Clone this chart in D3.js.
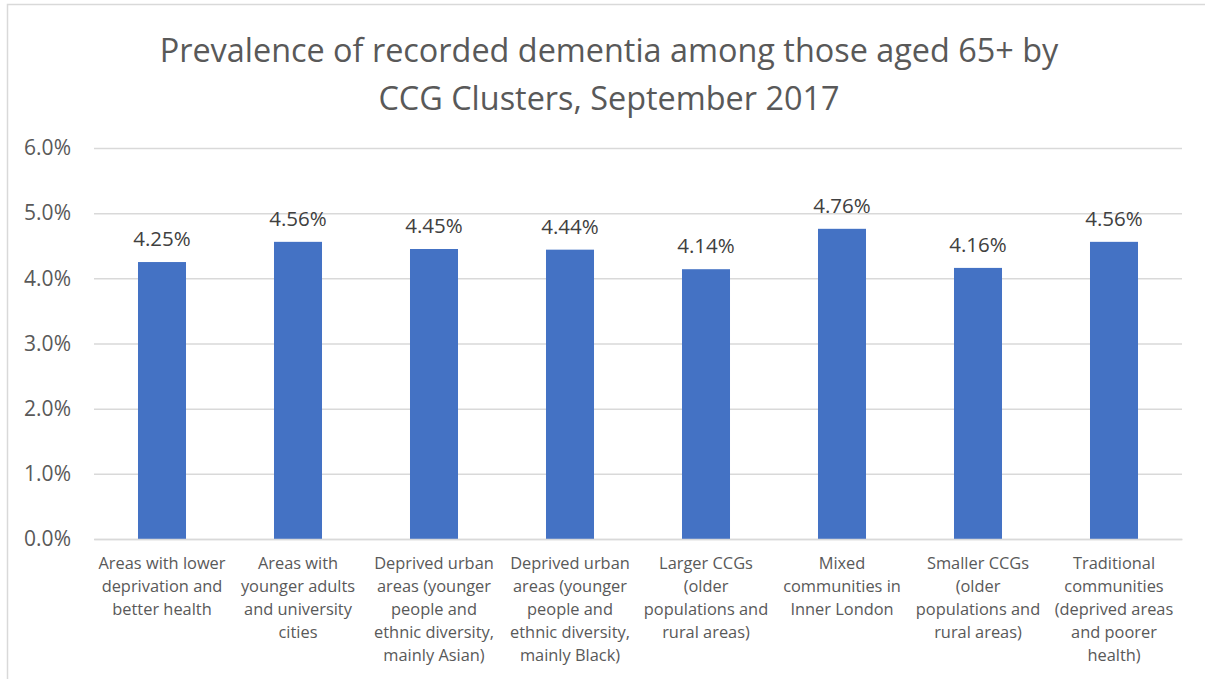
<!DOCTYPE html>
<html>
<head>
<meta charset="utf-8">
<script src="https://cdn.jsdelivr.net/npm/d3@7"></script>
<style>
  html, body { margin: 0; padding: 0; background: #fff; }
  svg { display: block; font-family: "Open Sans", "Liberation Sans", sans-serif; }
</style>
</head>
<body>
<script>
// Cluster names (line-broken as shown under each bar)
const categories = [
  ["Areas with lower", "deprivation and", "better health"],
  ["Areas with", "younger adults", "and university", "cities"],
  ["Deprived urban", "areas (younger", "people and", "ethnic diversity,", "mainly Asian)"],
  ["Deprived urban", "areas (younger", "people and", "ethnic diversity,", "mainly Black)"],
  ["Larger CCGs", "(older", "populations and", "rural areas)"],
  ["Mixed", "communities in", "Inner London"],
  ["Smaller CCGs", "(older", "populations and", "rural areas)"],
  ["Traditional", "communities", "(deprived areas", "and poorer", "health)"]
];
// Recorded dementia prevalence, aged 65+ (%)
const values = [4.25, 4.56, 4.45, 4.44, 4.14, 4.76, 4.16, 4.56];
const yTicks = [0, 1, 2, 3, 4, 5, 6];
const titleLines = ["Prevalence of recorded dementia among those aged 65+ by", "CCG Clusters, September 2017"];

const W = 1205, H = 679;
const margin = { left: 94, right: 23, top: 148, bottom: 140 };
const textColor = "#595959";

const svg = d3.select("body").append("svg").attr("width", W).attr("height", H);

// chart frame
svg.append("rect")
  .attr("x", 7.5).attr("y", 4.5)
  .attr("width", W + 10).attr("height", H + 10)
  .attr("fill", "none").attr("stroke", "#d9d9d9").attr("stroke-width", 1.5);

const x = d3.scaleBand()
  .domain(d3.range(values.length))
  .range([margin.left, W - margin.right])
  .paddingInner(0.647).paddingOuter(0.3235);

const y = d3.scaleLinear().domain([0, 6]).range([H - margin.bottom, margin.top]);

// title
svg.append("g").selectAll("text").data(titleLines).join("text")
  .attr("x", 609).attr("y", (d, i) => 62 + i * 48)
  .attr("text-anchor", "middle")
  .attr("fill", textColor)
  .attr("font-size", 32.4)
  .text(d => d);

// y axis: gridlines and labels
const yAxis = d3.axisLeft(y)
  .tickValues(yTicks)
  .tickSize(-(W - margin.left - margin.right))
  .tickPadding(23)
  .tickFormat(d => d.toFixed(1) + "%");

const gy = svg.append("g").attr("transform", `translate(${margin.left},0)`).call(yAxis);
gy.select(".domain").remove();
gy.selectAll(".tick line").attr("stroke", "#d9d9d9").attr("stroke-width", 1.5);
gy.selectAll(".tick text").attr("fill", textColor).attr("font-size", 21)
  .attr("font-family", "'Open Sans', sans-serif");

// bars
svg.append("g").selectAll("rect").data(values).join("rect")
  .attr("x", (d, i) => x(i))
  .attr("y", d => y(d))
  .attr("width", x.bandwidth())
  .attr("height", d => y(0) - y(d))
  .attr("fill", "#4472c4");

// value labels
svg.append("g").selectAll("text").data(values).join("text")
  .attr("x", (d, i) => x(i) + x.bandwidth() / 2)
  .attr("y", d => y(d) - 16)
  .attr("text-anchor", "middle")
  .attr("fill", "#404040")
  .attr("font-size", 20.5)
  .text(d => d.toFixed(2) + "%");

// category labels
const xAxis = d3.axisBottom(x).tickSize(0).tickFormat("");
const gx = svg.append("g").attr("transform", `translate(0,${y(0)})`).call(xAxis);
gx.select(".domain").attr("stroke", "#d9d9d9").attr("stroke-width", 1.5);
gx.selectAll(".tick").each(function (i) {
  const t = d3.select(this).append("text")
    .attr("text-anchor", "middle")
    .attr("fill", textColor)
    .attr("font-size", 16.4)
    .attr("font-family", "'Open Sans', sans-serif");
  categories[i].forEach((line, k) => {
    t.append("tspan").attr("x", 0).attr("y", 30 + k * 23).text(line);
  });
});
</script>
</body>
</html>
